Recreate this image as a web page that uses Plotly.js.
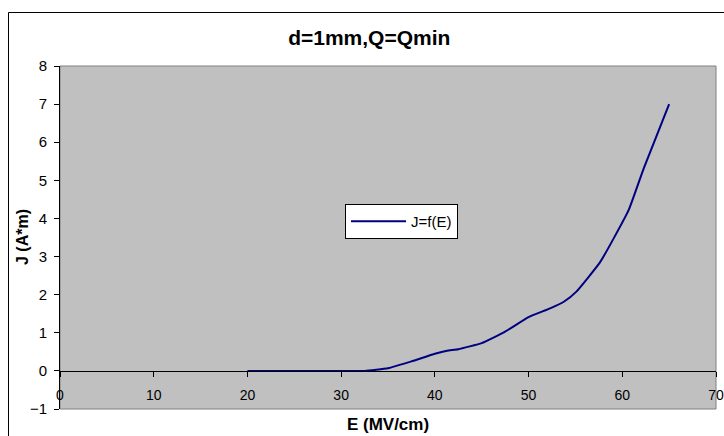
<!DOCTYPE html>
<html>
<head>
<meta charset="utf-8">
<script src="https://cdn.plot.ly/plotly-3.0.1.min.js"></script>
<style>html,body{margin:0;padding:0;background:#fff;}#chart{width:724px;height:436px;}</style>
</head>
<body>
<div id="chart"></div>
<script>
const chartTitle = "d=1mm,Q=Qmin";
const xTitle = "E (MV/cm)";
const yTitle = "J (A*m)";
const seriesName = "J=f(E)";
const E = [20, 22.5, 25, 27.5, 30, 32.5, 35, 37.5, 40, 41.3, 42.5, 45, 47.5, 50, 52.3, 53.8, 55.1, 57.6, 59.2, 60.7, 62.3, 65];
const J = [0, 0, 0, 0, 0, 0, 0.07, 0.25, 0.45, 0.53, 0.57, 0.73, 1.03, 1.41, 1.64, 1.82, 2.08, 2.84, 3.53, 4.23, 5.32, 7.0];

const W = 724, H = 436;
const L = 60, R = 8, T = 66, B = 27;
const pw = W - L - R, ph = H - T - B;
const px = v => (v - L) / pw;
const py = v => (H - B - v) / ph;

const font = "Liberation Sans, Arial, sans-serif";

const trace = {
  x: E, y: J, type: "scatter", mode: "lines", name: seriesName,
  line: {color: "#000080", width: 2, shape: "spline", smoothing: 0.4}
};

const layout = {
  width: W, height: H,
  margin: {l: L, r: R, t: T, b: B},
  paper_bgcolor: "#ffffff",
  plot_bgcolor: "#c0c0c0",
  font: {family: font, color: "#000000", size: 14},
  title: {text: "<b>" + chartTitle + "</b>", font: {size: 21, family: font}, xref: "container", x: 0.510, xanchor: "center", yref: "container", y: 1 - 38/436, yanchor: "middle"},
  showlegend: true,
  legend: {x: px(345), y: py(204), xanchor: "left", yanchor: "top", bgcolor: "#ffffff", bordercolor: "#000000", borderwidth: 1, font: {size: 15, family: font}, itemwidth: 55},
  xaxis: {
    range: [0, 70], dtick: 10, tick0: 0, anchor: "free", position: 1/9,
    showline: true, linecolor: "#000000", linewidth: 1,
    ticks: "outside", ticklen: 5, tickcolor: "#000000",
    showgrid: false, zeroline: false, ticklabelstandoff: 6,
    tickfont: {size: 14, family: font},
    title: {text: "<b>" + xTitle + "</b>", font: {size: 17, family: font}, standoff: 16}
  },
  yaxis: {
    range: [-1, 8], dtick: 1, tick0: 0,
    showline: true, linecolor: "#000000", linewidth: 1,
    ticks: "outside", ticklen: 5, tickcolor: "#000000",
    showgrid: false, zeroline: false, ticklabelstandoff: 4,
    tickfont: {size: 15, family: font}
  },
  annotations: [
    {text: "<b>" + yTitle + "</b>", xref: "paper", yref: "paper", x: px(23), y: py(237), xanchor: "center", yanchor: "middle", textangle: -90, showarrow: false, font: {size: 16, family: font, color: "#000000"}}
  ],
  shapes: [
    {type: "rect", xref: "paper", yref: "paper", x0: 0, x1: 1, y0: 0, y1: 1, line: {color: "#808080", width: 1}, layer: "below"},
    {type: "line", xref: "paper", yref: "paper", x0: px(8.5), x1: px(8.5), y0: py(12.5), y1: py(440), line: {color: "#000000", width: 1}},
    {type: "line", xref: "paper", yref: "paper", x0: px(8.5), x1: px(730), y0: py(12.5), y1: py(12.5), line: {color: "#000000", width: 1}}
  ]
};

Plotly.newPlot("chart", [trace], layout, {displayModeBar: false, staticPlot: true});
</script>
</body>
</html>
